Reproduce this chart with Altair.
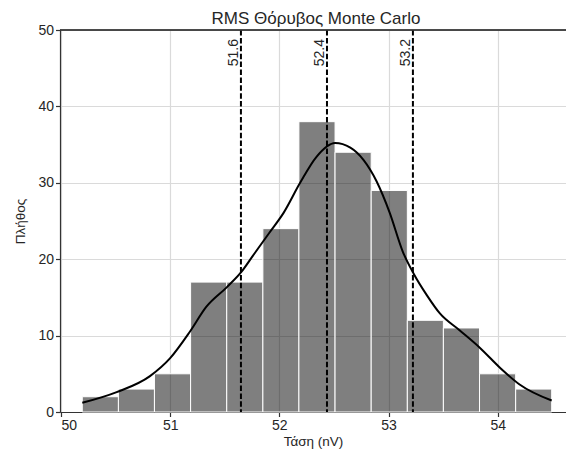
import altair as alt
import pandas as pd

# --- data ---
bin_edges = [50.195, 50.526, 50.856, 51.187, 51.518, 51.849, 52.179,
             52.510, 52.841, 53.172, 53.502, 53.833, 54.164, 54.494]
counts = [2, 3, 5, 17, 17, 24, 38, 34, 29, 12, 11, 5, 3]

kde_x = [50.195, 50.51, 50.815, 51.0, 51.18, 51.33, 51.52, 51.65, 51.76, 51.91,
         52.04, 52.19, 52.34, 52.51, 52.65, 52.77, 52.89, 53.01, 53.13, 53.23,
         53.35, 53.47, 53.65, 53.84, 54.02, 54.20, 54.494]
kde_y = [1.2, 2.6, 4.7, 7.05, 10.5, 13.75, 16.35, 18.3, 20.5, 23.5,
         26.1, 30.0, 33.4, 35.2, 34.6, 33.0, 30.2, 26.1, 21.0, 18.1,
         15.3, 12.9, 10.7, 8.35, 5.8, 3.6, 1.5]

vline_vals = [51.648, 52.436, 53.223]
vline_labels = ["51.6", "52.4", "53.2"]

x_ticks = [50, 51, 52, 53, 54]
y_ticks = [0, 10, 20, 30, 40, 50]

title = "RMS Θόρυβος Monte Carlo"
x_title = "Τάση (nV)"
y_title = "Πλήθος"

FONT = "Liberation Sans"
W, H = 506, 382
XDOM = [49.991, 54.625]
YDOM = [0, 50]

hist_df = pd.DataFrame({"x0": bin_edges[:-1], "x1": bin_edges[1:], "n": counts})
kde_df = pd.DataFrame({"x": kde_x, "y": kde_y})
vl_df = pd.DataFrame({"v": vline_vals, "lab": vline_labels})
title_df = pd.DataFrame({"t": [title]})

xscale = alt.Scale(domain=XDOM, nice=False, zero=False)
yscale = alt.Scale(domain=YDOM, nice=False)

bars = alt.Chart(hist_df).mark_rect(
    color="black", fillOpacity=0.5, stroke="white", strokeWidth=1
).encode(
    x=alt.X("x0:Q", scale=xscale,
            axis=alt.Axis(values=x_ticks, title=x_title, format="d")),
    x2="x1:Q",
    y=alt.Y("n:Q", scale=yscale,
            axis=alt.Axis(values=y_ticks, title=y_title, format="d")),
    y2=alt.datum(0),
)

kde = alt.Chart(kde_df).mark_line(
    color="black", strokeWidth=2, interpolate="monotone"
).encode(x=alt.X("x:Q", scale=xscale), y=alt.Y("y:Q", scale=yscale))

vlines = alt.Chart(vl_df).mark_rule(
    color="black", strokeWidth=2, strokeDash=[5.5, 2.4]
).encode(x=alt.X("v:Q", scale=xscale))

vtext = alt.Chart(vl_df).mark_text(
    angle=270, align="right", baseline="alphabetic", dy=-3,
    font=FONT, fontSize=14, color="#262626"
).encode(x=alt.X("v:Q", scale=xscale), y=alt.value(9), text="lab:N")

top_spine = alt.Chart(vl_df).mark_rule(color="#333333", strokeWidth=1.2).encode(
    x=alt.value(0), x2=alt.value(W), y=alt.value(0)
)

title_mark = alt.Chart(title_df).mark_text(
    align="center", baseline="alphabetic", font=FONT, fontSize=17,
    color="#262626"
).encode(x=alt.value(256), y=alt.value(-6), text="t:N")

chart = alt.layer(bars, kde, vlines, vtext, top_spine, title_mark).properties(
    width=W, height=H,
    autosize=alt.AutoSizeParams(type="none"),
    padding={"left": 52, "top": 22, "right": 0, "bottom": 37},
).configure_view(stroke=None).configure_axis(
    grid=True, gridColor="#dadada", gridWidth=1.2,
    domainColor="#333333", domainWidth=1.2,
    tickColor="#333333", tickSize=4.5, tickWidth=1.2,
    labelFont=FONT, labelFontSize=14, labelColor="#262626",
    titleFont=FONT, titleFontSize=13.5, titleFontWeight="normal", titleColor="#262626",
    labelPadding=2,
).configure_axisX(titlePadding=2).configure_axisY(titlePadding=10)

chart.save("out.html", embed_options={"renderer": "svg", "actions": False})
